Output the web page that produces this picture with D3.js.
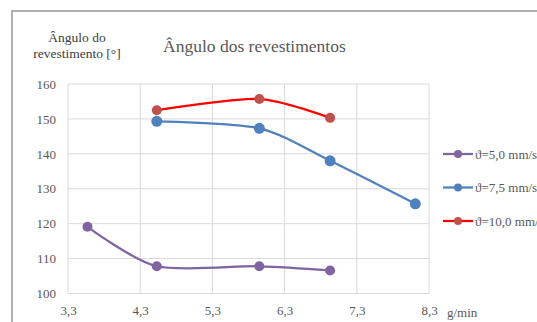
<!DOCTYPE html>
<html lang="pt">
<head>
<meta charset="UTF-8">
<title>Ângulo dos revestimentos</title>
<script src="https://cdn.jsdelivr.net/npm/d3@7"></script>
<style>
  html, body { margin: 0; padding: 0; background: #fff; overflow: hidden; }
  svg { display: block; font-family: "Liberation Serif", "DejaVu Serif", serif; }
</style>
</head>
<body>
<script>
// dados
const seriesNames = ['ϑ=5,0 mm/s', 'ϑ=7,5 mm/s', 'ϑ=10,0 mm/s'];
const xs50 = [3.57, 4.53, 5.95, 6.93];
const ys50 = [119.1, 107.8, 107.8, 106.6];
const xs75 = [4.53, 5.95, 6.93, 8.11];
const ys75 = [149.3, 147.3, 138.0, 125.7];
const xs100 = [4.53, 5.95, 6.93];
const ys100 = [152.5, 155.7, 150.3];
const xTicks = [3.3, 4.3, 5.3, 6.3, 7.3, 8.3];
const yTicks = [100, 110, 120, 130, 140, 150, 160];

const lineColors = ['#8064a2', '#4f81bd', '#ff0000'];
const dotColors = ['#8064a2', '#4f81bd', '#c0504d'];

const series = [
  xs50.map((x, i) => ({ x, y: ys50[i] })),
  xs75.map((x, i) => ({ x, y: ys75[i] })),
  xs100.map((x, i) => ({ x, y: ys100[i] }))
];

const W = 537, H = 322;
const svg = d3.select('body').append('svg').attr('width', W).attr('height', H);

// moldura do gráfico (sai da janela à direita e em baixo)
svg.append('rect')
  .attr('x', 12).attr('y', 11).attr('width', 600).attr('height', 400)
  .attr('fill', '#fff').attr('stroke', '#b0b0b0').attr('stroke-width', 2);

const x = d3.scaleLinear().domain([3.3, 8.3]).range([68, 429]);
const y = d3.scaleLinear().domain([100, 160]).range([293.5, 84]);

const grid = svg.append('g');
grid.selectAll('.vx').data(xTicks).join('line')
  .attr('x1', d => x(d)).attr('x2', d => x(d))
  .attr('y1', y(100)).attr('y2', y(160))
  .attr('stroke', '#d9d9d9').attr('stroke-width', 1);
grid.selectAll('.hy').data(yTicks).join('line')
  .attr('x1', x(3.3)).attr('x2', x(8.3))
  .attr('y1', d => y(d)).attr('y2', d => y(d))
  .attr('stroke', '#d9d9d9').attr('stroke-width', 1);

// eixos (só os rótulos)
const fmt = d => d3.format('.1f')(d).replace('.', ',');
const xAxis = svg.append('g').attr('transform', `translate(0,${y(100)})`)
  .call(d3.axisBottom(x).tickValues(xTicks).tickFormat(fmt).tickSize(0).tickPadding(12));
const yAxis = svg.append('g').attr('transform', `translate(${x(3.3)},0)`)
  .call(d3.axisLeft(y).tickValues(yTicks).tickSize(0).tickPadding(12));
[xAxis, yAxis].forEach(a => {
  a.attr('font-family', null);
  a.select('.domain').remove();
  a.selectAll('text').attr('fill', '#595959')
    .style('font-family', '"Liberation Serif", serif').style('font-size', '13px');
});

svg.append('text').attr('x', 447).attr('y', 317)
  .attr('fill', '#595959').style('font-size', '13px').text('g/min');

// títulos
svg.append('text').attr('x', 163).attr('y', 52)
  .attr('fill', '#595959').style('font-size', '17.5px').text('Ângulo dos revestimentos');
const yt = svg.append('text').attr('text-anchor', 'middle')
  .attr('fill', '#404040').style('font-size', '13.5px');
yt.append('tspan').attr('x', 77).attr('y', 42).text('Ângulo do');
yt.append('tspan').attr('x', 77).attr('y', 58).text('revestimento [°]');

// linhas suavizadas
const line = d3.line().x(d => x(d.x)).y(d => y(d.y)).curve(d3.curveCardinal.tension(0.2));
series.forEach((s, i) => {
  svg.append('path').datum(s)
    .attr('d', line).attr('fill', 'none')
    .attr('stroke', lineColors[i]).attr('stroke-width', 2.25);
  svg.append('g').selectAll('circle').data(s).join('circle')
    .attr('cx', d => x(d.x)).attr('cy', d => y(d.y))
    .attr('r', i === 1 ? 5.5 : 5).attr('fill', dotColors[i]);
});

// legenda
const leg = svg.append('g');
seriesNames.forEach((name, i) => {
  const ly = 154 + i * 33.5;
  leg.append('line').attr('x1', 443).attr('x2', 473).attr('y1', ly).attr('y2', ly)
    .attr('stroke', lineColors[i]).attr('stroke-width', 2.25);
  leg.append('circle').attr('cx', 458).attr('cy', ly).attr('r', 4).attr('fill', dotColors[i]);
  leg.append('text').attr('x', 475).attr('y', ly + 4.5)
    .attr('fill', '#595959').style('font-size', '13px').text(name);
});
</script>
</body>
</html>
